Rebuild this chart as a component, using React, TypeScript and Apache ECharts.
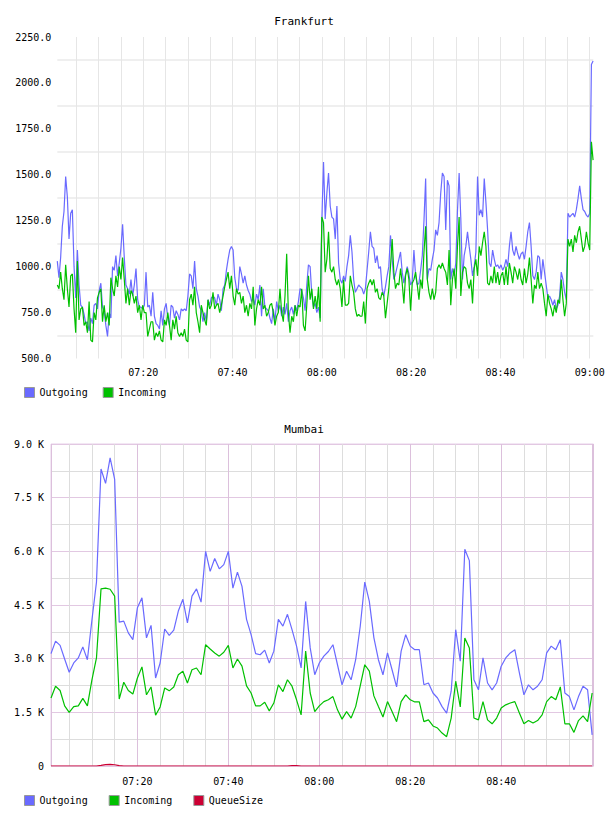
import { useEffect, useRef } from 'react';
import * as echarts from 'echarts';

// Frankfurt samples: every 22.5 s starting 07:00:45 (x in minutes after midnight)
const FRA_START = 420.75;
const FRA_STEP = 0.375;

const fraOutgoing = [
  1030, 940, 1050, 1220, 1300, 1490, 1380, 1150, 1290, 1310,
  1000, 830, 1090, 900, 790, 780, 740, 690, 700, 650,
  720, 690, 790, 800, 770, 870, 910, 780, 760, 680,
  620, 750, 720, 1000, 980, 1060, 950, 1020, 1100, 1230,
  1050, 900, 880, 850, 930, 840, 900, 990, 820, 780,
  780, 770, 790, 970, 780, 790, 730, 860, 730, 690,
  680, 660, 760, 680, 770, 800, 720, 680, 790, 780,
  720, 760, 740, 710, 770, 760, 770, 760, 840, 960,
  950, 880, 1030, 880, 840, 780, 760, 700, 750, 700,
  820, 790, 830, 840, 830, 790, 850, 820, 760, 880,
  900, 980, 1040, 1090, 1110, 1090, 940, 880, 870, 1000,
  960, 910, 950, 900, 870, 850, 810, 830, 790, 850,
  820, 900, 730, 880, 780, 770, 760, 720, 690, 770,
  700, 810, 760, 790, 730, 780, 740, 800, 700, 760,
  780, 740, 790, 760, 810, 880, 870, 830,
  760, 900, 1010, 1000, 850, 780, 800, 750, 780, 720,
  1250, 1570, 1260, 1400, 1510, 1330, 1270, 1260, 1150, 1330,
  1020, 930, 910, 950, 920, 1000, 1060, 1170, 1080, 930,
  860, 880, 900, 890, 880, 850, 880, 980, 1080, 1190,
  1110, 1100, 1020, 1060, 990, 1000, 880, 840, 890, 950,
  1000, 1170, 1040, 930, 960, 1000, 1040, 1080, 970, 910,
  960, 1000, 960, 900, 920, 1090, 950, 900, 910, 980,
  1060, 1250, 1480, 930, 990, 980, 1040, 1090, 1200, 1170,
  1240, 1400, 1510, 1490, 1200, 1470, 1440, 930, 990, 950,
  1020, 1300, 1510, 1260, 930, 1060, 1110, 1190, 1110, 1040,
  950, 1000, 1080, 1490, 1280, 1310, 1270, 1480, 1350, 1200,
  1020, 1000, 1090, 1040, 1000, 1010, 990, 1010, 980, 1000,
  1040, 1000, 1110, 1190, 1090, 1060, 1110, 1070, 1040, 1070,
  1080, 1040, 1110, 1190, 1240, 1110, 950, 930, 970, 1060,
  1050, 930, 1040, 970, 900, 830, 840, 820, 790, 820,
  770, 790, 840, 970, 930, 860, 820, 1290, 1270, 1280,
  1290, 1270, 1310, 1370, 1440, 1370, 1310, 1300, 1280, 1270,
  1290, 2100, 2120,
];

const fraIncoming = [
  900, 880, 970, 880, 820, 1010, 880, 780, 950, 960,
  770, 640, 1030, 710, 770, 780, 680, 700, 640, 810,
  600, 590, 750, 710, 830, 860, 880, 700, 790, 700,
  750, 680, 940, 880, 840, 950, 890, 1000, 930, 1050,
  930, 800, 880, 790, 870, 850, 800, 840, 750, 790,
  710, 790, 750, 750, 620, 660, 700, 700, 600, 640,
  620, 650, 600, 590, 710, 680, 750, 680, 600, 710,
  660, 730, 640, 620, 640, 620, 660, 600, 590, 820,
  850, 790, 890, 750, 700, 640, 790, 750, 710, 680,
  820, 770, 790, 860, 770, 790, 800, 750, 790, 840,
  890, 930, 970, 880, 950, 840, 790, 880, 850, 860,
  800, 840, 750, 790, 730, 800, 770, 890, 680, 770,
  820, 790, 890, 770, 790, 730, 750, 790, 800, 750,
  680, 730, 750, 880, 750, 700, 840, 1070, 750, 640,
  730, 700, 790, 730, 790, 780, 880, 680,
  650, 790, 950, 820, 880, 770, 840, 770, 890, 700,
  1270, 1240, 970, 1040, 1190, 990, 970, 1000, 930, 900,
  930, 880, 780, 930, 790, 790, 800, 950, 900, 860,
  770, 730, 740, 730, 730, 810, 690, 880, 910, 930,
  900, 930, 860, 880, 830, 820, 860, 840, 720, 800,
  880, 1000, 1150, 970, 880, 910, 900, 990, 910, 800,
  950, 990, 930, 760, 910, 930, 970, 900, 820, 930,
  880, 1080, 1220, 930, 860, 820, 880, 820, 860, 990,
  1010, 990, 1020, 990, 970, 900, 1090, 790, 930, 990,
  880, 1110, 1270, 840, 970, 1000, 990, 910, 880, 930,
  800, 990, 1040, 950, 1110, 1060, 1130, 1190, 1110, 910,
  900, 950, 910, 1000, 910, 970, 900, 950, 970, 900,
  1000, 900, 1020, 970, 910, 1000, 970, 930, 990, 930,
  900, 990, 910, 960, 1050, 930, 800, 900, 880, 970,
  880, 910, 880, 800, 730, 850, 800, 770, 730, 790,
  750, 820, 800, 930, 820, 730, 800, 1150, 1110, 1150,
  1080, 1170, 1130, 1190, 1220, 1150, 1080, 1110, 1190, 1130,
  1090, 1680, 1580,
];

// Mumbai samples: one per minute from 07:01
const MUM_START = 421;
const MUM_STEP = 1;

const mumOutgoing = [
  3140, 3490, 3370, 2990, 2620, 2880, 3020, 3330, 2970, 4080,
  5140, 8300, 7900, 8610, 8010, 4020, 4050, 3720, 3530, 4420,
  4700, 3580, 3930, 2460, 2880, 3830, 3650, 3800, 4330, 4660,
  4000, 4750, 4950, 4580, 6000, 5440, 5800, 5510, 5630, 6000,
  4970, 5420, 5020, 4100, 3670, 3140, 3110, 3240, 2880, 3210,
  4100, 3910, 4240, 3810, 3350, 2740, 4600, 3300, 2550, 2880,
  3070, 3200, 3390, 2830, 2270, 2650, 2410, 2970, 3900, 5140,
  4600, 3590, 2970, 2550, 3160, 2690, 2210, 3210, 3670, 3350,
  3250, 3250, 2270, 2320, 2040, 1900, 1660, 1480, 2090, 3810,
  2930, 6060, 5740, 2410, 2130, 3020, 2320, 2130, 2320, 2790,
  3020, 3160, 3250, 2600, 1990, 2270, 2130, 2230, 2410, 3160,
  3350, 3250, 3530, 2040, 1940, 1570, 1940, 2230, 2130, 870,
];

const mumIncoming = [
  1900, 2230, 2110, 1680, 1500, 1660, 1680, 1890, 1680, 2410,
  3020, 4950, 4970, 4940, 4750, 1870, 2340, 2110, 2010, 2460,
  2770, 1990, 2210, 1420, 1650, 2180, 2100, 2210, 2550, 2650,
  2320, 2690, 2740, 2550, 3390, 3270, 3160, 3070, 3180, 3370,
  2740, 2990, 2790, 2240, 2040, 1680, 1680, 1780, 1540, 1760,
  2270, 2080, 2410, 2230, 1850, 1430, 3210, 2040, 1520, 1680,
  1800, 1850, 1940, 1570, 1310, 1520, 1340, 1660, 2240, 2830,
  2650, 1960, 1660, 1370, 1800, 1520, 1240, 1800, 1990, 1850,
  1790, 1790, 1240, 1290, 1120, 1060, 920, 820, 1340, 2370,
  1650, 3580, 3300, 1340, 1290, 1800, 1290, 1180, 1340, 1620,
  1710, 1760, 1800, 1480, 1180, 1270, 1200, 1270, 1430, 1800,
  1940, 1850, 2210, 1180, 1180, 940, 1270, 1400, 1240, 2040,
];

const mumQueueSize = [
  0, 0, 0, 0, 0, 0, 0, 0, 0, 0,
  0, 15, 40, 45, 35, 10, 0, 0, 0, 0,
  0, 0, 0, 0, 0, 0, 0, 0, 0, 0,
  0, 0, 0, 0, 0, 0, 0, 0, 0, 0,
  0, 0, 0, 0, 0, 0, 0, 0, 0, 0,
  0, 0, 0, 8, 10, 0, 0, 0, 0, 0,
  0, 0, 0, 0, 0, 0, 0, 0, 0, 0,
  0, 0, 0, 0, 0, 0, 0, 0, 0, 0,
  0, 0, 0, 0, 0, 0, 0, 0, 0, 0,
  0, 0, 0, 0, 0, 0, 0, 0, 0, 0,
  0, 0, 0, 0, 0, 0, 0, 0, 0, 0,
  0, 0, 0, 0, 0, 0, 0, 0, 0, 0,
];

const fraLegend = ['Outgoing', 'Incoming'];
const mumLegend = ['Outgoing', 'Incoming', 'QueueSize'];

const COLORS: Record<string, string> = {
  Outgoing: '#6a6aff',
  Incoming: '#00c000',
  QueueSize: '#cc0033',
};

const MONO = '"DejaVu Sans Mono", monospace';

const pairs = (start: number, step: number, values: number[]) =>
  values.map((v, i) => [start + step * i, v]);

const hhmm = (m: number) => {
  const h = Math.floor(m / 60);
  const mm = Math.round(m - h * 60);
  return `${String(h).padStart(2, '0')}:${String(mm).padStart(2, '0')}`;
};

const isWhole20 = (v: number) => Math.abs(v - Math.round(v)) < 1e-6 && Math.round(v) % 20 === 0;

export default function App() {
  const ref = useRef<HTMLDivElement>(null);

  useEffect(() => {
    if (!ref.current) return;
    const chart = echarts.init(ref.current, undefined, { renderer: 'svg' });

    const labelStyle = { fontFamily: MONO, fontSize: 10, color: '#000' };
    const titleStyle = { fontFamily: MONO, fontSize: 11, fontWeight: 'normal', color: '#000' };
    const legendBase = {
      left: 24,
      padding: 0,
      itemWidth: 10,
      itemHeight: 10,
      icon: 'rect',
      selectedMode: false,
      textStyle: labelStyle,
      itemStyle: { borderColor: '#999', borderWidth: 1 },
    };
    const line = (name: string, xi: number, yi: number, data: number[][]) => ({
      name,
      type: 'line',
      xAxisIndex: xi,
      yAxisIndex: yi,
      data,
      showSymbol: false,
      symbol: 'none',
      silent: true,
      lineStyle: { color: COLORS[name], width: 1.2 },
      itemStyle: { color: COLORS[name] },
    });

    chart.setOption({
      animation: false,
      backgroundColor: '#ffffff',
      textStyle: { fontFamily: MONO },
      title: [
        { text: 'Frankfurt', left: 'center', top: 11, textStyle: titleStyle },
        { text: 'Mumbai', left: 'center', top: 419, textStyle: titleStyle },
      ],
      legend: [
        { ...legendBase, data: fraLegend, top: 387, itemGap: 15 },
        { ...legendBase, data: mumLegend, top: 795, itemGap: 21 },
      ],
      grid: [
        { left: 57.3, top: 37, width: 536, height: 321.5 },
        {
          left: 51,
          top: 444,
          width: 542.5,
          height: 322,
          show: true,
          borderColor: '#e6cfe8',
          borderWidth: 1,
        },
      ],
      xAxis: [
        {
          type: 'value',
          gridIndex: 0,
          min: 420.75,
          max: 540.8,
          minInterval: 5,
          maxInterval: 5,
          splitNumber: 24,
          axisLine: { show: false },
          axisTick: { show: false },
          axisLabel: {
            ...labelStyle,
            margin: 9,
            formatter: (v: number) => (isWhole20(v) ? hhmm(v) : ''),
          },
          splitLine: {
            show: true,
            showMinLine: false,
            showMaxLine: false,
            lineStyle: { color: '#e6e6e6', width: 1 },
          },
        },
        {
          // Mumbai: grey 5-minute grid and the time labels
          type: 'value',
          gridIndex: 1,
          min: 421,
          max: 540.3,
          minInterval: 5,
          maxInterval: 5,
          splitNumber: 24,
          axisLine: { show: false },
          axisTick: { show: false },
          axisLabel: {
            ...labelStyle,
            margin: 10,
            formatter: (v: number) => (isWhole20(v) && v < 540 ? hhmm(v) : ''),
          },
          splitLine: { show: true, lineStyle: { color: '#dddddd', width: 1 } },
        },
        {
          // Mumbai: purple 20-minute grid drawn over the grey one
          type: 'value',
          gridIndex: 1,
          min: 421,
          max: 540.3,
          minInterval: 20,
          maxInterval: 20,
          splitNumber: 6,
          position: 'bottom',
          axisLine: { show: false },
          axisTick: { show: false },
          axisLabel: { show: false },
          splitLine: { show: true, lineStyle: { color: '#dcc0dc', width: 1 } },
        },
      ],
      yAxis: [
        {
          type: 'value',
          gridIndex: 0,
          min: 500,
          max: 2250,
          interval: 250,
          axisLine: { show: false },
          axisTick: { show: false },
          axisLabel: { ...labelStyle, margin: 6, formatter: (v: number) => v.toFixed(1) },
          splitLine: { show: false },
          minorTick: { show: false, splitNumber: 2 },
          minorSplitLine: { show: true, lineStyle: { color: '#efefef', width: 2 } },
        },
        {
          type: 'value',
          gridIndex: 1,
          min: 0,
          max: 9000,
          interval: 750,
          axisLine: { show: false },
          axisTick: { show: false },
          axisLabel: {
            ...labelStyle,
            margin: 7,
            formatter: (v: number) =>
              v % 1500 === 0 ? (v === 0 ? '0' : `${(v / 1000).toFixed(1)} K`) : '',
          },
          splitLine: {
            show: true,
            lineStyle: { color: ['#e2c8e2', '#dddddd'], width: 1 },
          },
        },
      ],
      series: [
        line('Outgoing', 0, 0, pairs(FRA_START, FRA_STEP, fraOutgoing)),
        line('Incoming', 0, 0, pairs(FRA_START, FRA_STEP, fraIncoming)),
        line('Outgoing', 1, 1, pairs(MUM_START, MUM_STEP, mumOutgoing)),
        line('Incoming', 1, 1, pairs(MUM_START, MUM_STEP, mumIncoming)),
        line('QueueSize', 1, 1, pairs(MUM_START, MUM_STEP, mumQueueSize)),
      ],
    });

    return () => chart.dispose();
  }, []);

  return (
    <div
      ref={ref}
      style={{ position: 'absolute', left: 0, top: 0, width: 608, height: 816 }}
    />
  );
}
